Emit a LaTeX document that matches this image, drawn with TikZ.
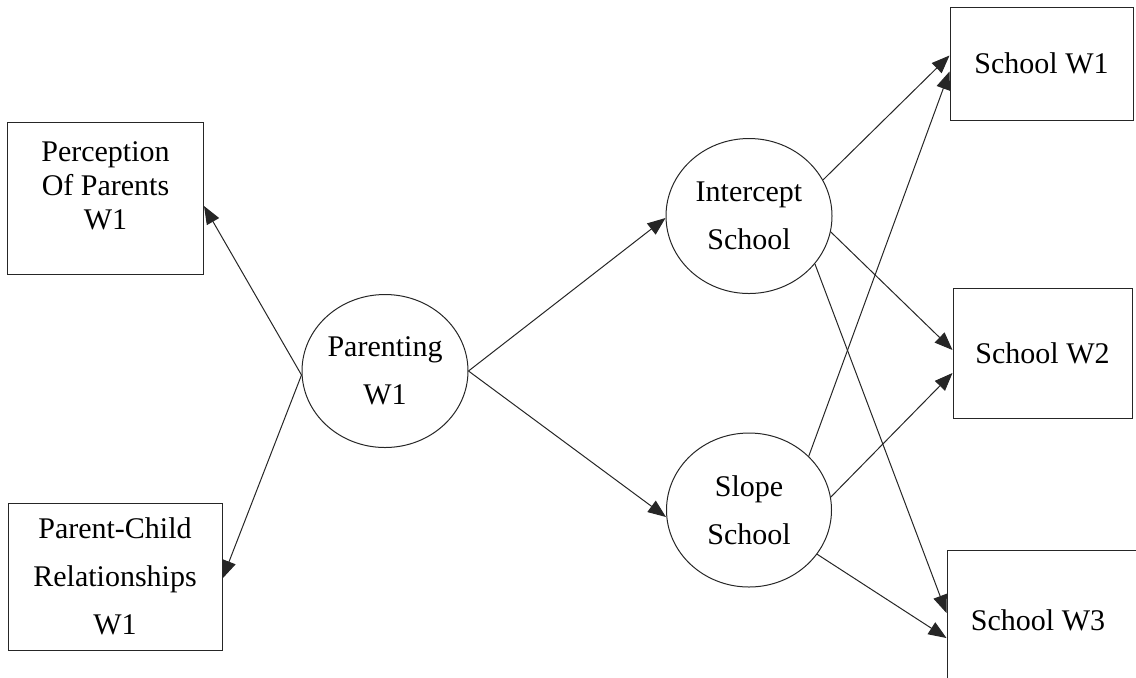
\documentclass[tikz,border=0pt]{standalone}
\usepackage{fontspec}
\setmainfont{Liberation Serif}
\usetikzlibrary{shapes.geometric, arrows.meta, positioning, calc}
\tikzset{
	obs/.style   ={rectangle, draw=black!85, line width=0.5pt, align=center, inner sep=0pt, font=\fontsize{15}{24}\selectfont},
	latent/.style={ellipse, draw=black!85, line width=0.5pt, align=center, inner sep=0pt, font=\fontsize{15}{24}\selectfont},
	effect/.style={-{Triangle[length=9pt, width=7pt]}, line width=0.5pt, black!85},
}
\begin{document}
\begin{tikzpicture}[x=0.5pt, y=-0.5pt]
	\useasboundingbox (0,0) rectangle (1136,677);
	% indicators of parenting
	\node[obs, minimum width=98pt, minimum height=76pt, font=\fontsize{15}{17}\selectfont] (perc) at (105.5,198) {Perception\\ Of Parents\\ W1\\[-5pt]};
	\node[obs, minimum width=107pt, minimum height=73.5pt] (pcr) at (115,576.5) {Parent-Child\\ Relationships\\ W1};
	% latent factors
	\node[latent, minimum width=83pt, minimum height=76.5pt] (par) at (385,371) {Parenting\\ W1};
	\node[latent, minimum width=83pt, minimum height=77.5pt] (icpt) at (749,216) {Intercept\\ School};
	\node[latent, minimum width=82.5pt, minimum height=77pt] (slp) at (749,510) {Slope\\ School};
	% school outcomes
	\node[obs, minimum width=91.5pt, minimum height=56.5pt] (sw1) at (1041.5,63.5) {School W1};
	\node[obs, minimum width=89.5pt, minimum height=65pt] (sw2) at (1042.5,353) {School W2};
	\node[obs, minimum width=99pt, minimum height=70pt] (sw3) at (1046,620) {School W3\hspace{8pt}};
	% paths
	\draw[effect] ($(par.west)+(0,4)$) -- ($(perc.east)+(0,8)$);
	\draw[effect] ($(par.west)+(0,4)$) -- ($(pcr.east)+(0,2)$);
	\draw[effect] (par.east) -- ($(icpt.west)+(0,2)$);
	\draw[effect] (par.east) -- ($(slp.west)+(0,7)$);
	\draw[effect] (icpt.26) -- ($(sw1.west)+(0,-8)$);
	\draw[effect] (icpt.-11) -- ($(sw2.west)+(0,-3)$);
	\draw[effect] (icpt.-36) -- ($(sw3.west)+(0,-7)$);
	\draw[effect] (slp.42) -- ($(sw1.west)+(0,8)$);
	\draw[effect] (slp.9) -- ($(sw2.west)+(0,20)$);
	\draw[effect] (slp.-33) -- ($(sw3.west)+(0,18)$);
\end{tikzpicture}
\end{document}
